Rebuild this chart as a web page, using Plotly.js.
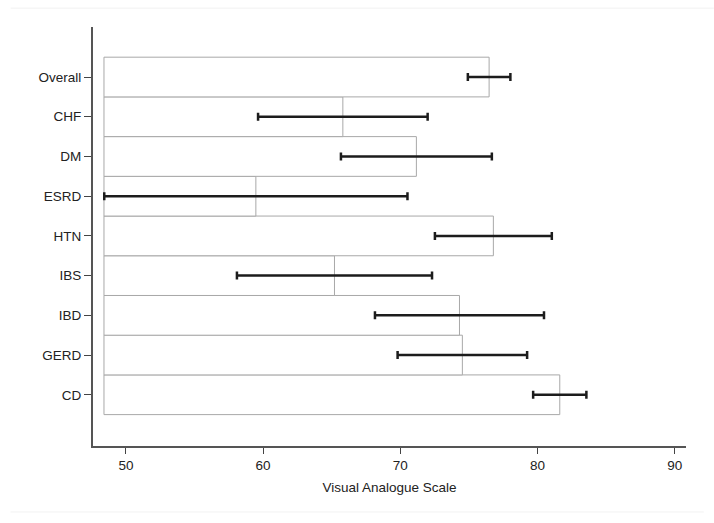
<!DOCTYPE html>
<html>
<head>
<meta charset="utf-8">
<script src="https://cdn.plot.ly/plotly-3.0.1.min.js"></script>
<style>
  html, body { margin: 0; padding: 0; background: #fff; }
  #chart { width: 714px; height: 523px; }
</style>
</head>
<body>
<div id="chart"></div>
<script>
// groups, bottom to top as drawn
const groups = ['CD', 'GERD', 'IBD', 'IBS', 'HTN', 'ESRD', 'DM', 'CHF', 'Overall'];
const vasMean = [81.62, 74.52, 74.31, 65.20, 76.78, 59.47, 71.17, 65.81, 76.47];
const vasErr = [1.94, 4.72, 6.16, 7.11, 4.26, 11.05, 5.50, 6.18, 1.55];
const barBase = 48.4;
const xTicks = [50, 60, 70, 80, 90];

const bars = {
  type: 'bar',
  orientation: 'h',
  y: groups,
  x: vasMean.map(v => v - barBase),
  base: barBase,
  marker: { color: '#ffffff', line: { color: '#a8a8a8', width: 1 } },
  error_x: {
    type: 'data',
    array: vasErr,
    visible: true,
    color: '#1c1c1c',
    thickness: 2.5,
    width: 4
  },
  hoverinfo: 'x+y',
  showlegend: false
};

const fontFamily = '"Liberation Sans", Arial, sans-serif';

const layout = {
  width: 714,
  height: 523,
  margin: { l: 93, r: 28, t: 27, b: 77 },
  paper_bgcolor: '#fff',
  plot_bgcolor: '#fff',
  font: { family: fontFamily, size: 13.5, color: '#222' },
  bargap: 0,
  xaxis: {
    range: [47.6, 90.82],
    tickvals: xTicks,
    ticks: 'outside',
    ticklen: 6,
    tickcolor: '#444',
    tickwidth: 1,
    showgrid: false,
    zeroline: false,
    showline: true,
    linecolor: '#555',
    linewidth: 1.5,
    tickfont: { size: 13.5, color: '#222' },
    title: { text: 'Visual Analogue Scale', font: { size: 13.5, color: '#222' }, standoff: 11 }
  },
  yaxis: {
    range: [-1.29, 9.26],
    ticks: 'outside',
    ticklen: 7,
    tickcolor: '#444',
    tickwidth: 1,
    showgrid: false,
    zeroline: false,
    showline: true,
    linecolor: '#555',
    linewidth: 2,
    tickfont: { size: 13.5, color: '#222' }
  },
  shapes: [
    { type: 'line', xref: 'paper', yref: 'paper', x0: -0.139, x1: 1.047, y0: 1.045, y1: 1.045,
      line: { color: '#f2f2f2', width: 1 } },
    { type: 'line', xref: 'paper', yref: 'paper', x0: -0.139, x1: 1.03, y0: -0.1575, y1: -0.1575,
      line: { color: '#f2f2f2', width: 1 } }
  ]
};

Plotly.newPlot('chart', [bars], layout, { displayModeBar: false, staticPlot: true });
</script>
</body>
</html>
